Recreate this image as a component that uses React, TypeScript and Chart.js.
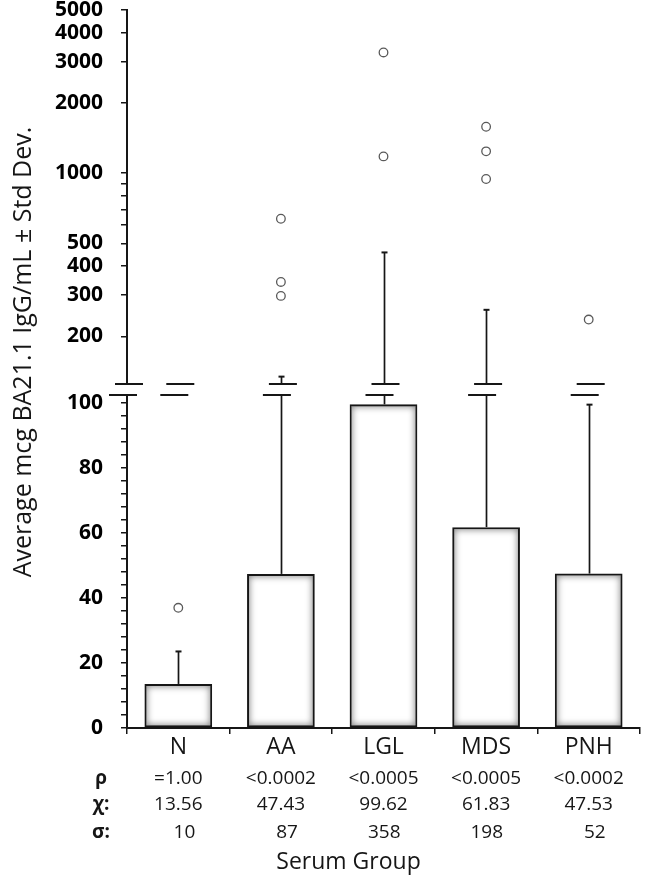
import React, { useEffect, useRef } from "react";
import { Chart, registerables } from "chart.js";

Chart.register(...registerables);

// ---- data ----
const categories = ["N", "AA", "LGL", "MDS", "PNH"];
const means = [13.56, 47.43, 99.62, 61.83, 47.53];
const stdDevs = [10, 87, 358, 198, 52];
const pValues = ["=1.00", "<0.0002", "<0.0005", "<0.0005", "<0.0002"];
const outlierGroups = ["N", "AA", "AA", "AA", "LGL", "LGL", "MDS", "MDS", "MDS", "PNH"];
const outlierValues = [37, 638, 342, 298, 3290, 1180, 1581, 1240, 944, 236];

const lowTicks = [0, 4, 8, 12, 16, 20, 24, 28, 32, 36, 40, 44, 48, 52, 56, 60, 64, 68, 72, 76, 80, 84, 88, 92, 96, 100];
const lowLabels = [0, 20, 40, 60, 80, 100];
const highTicks = [200, 300, 400, 500, 600, 700, 800, 900, 1000, 2000, 3000, 4000, 5000];
const highLabels = [200, 300, 400, 500, 1000, 2000, 3000, 4000, 5000];

const LOW_MAX = 102.5;
const HIGH_MIN = 125;
const HIGH_MAX = 5000;

const rowLabels = ["ρ", "χ:", "σ:"];
const yTitle = "Average mcg BA21.1 IgG/mL ± Std Dev.";
const xTitle = "Serum Group";

const FONT = "'Open Sans', 'Noto Sans', sans-serif";
const INK = "#161616";

const lowOutliers = outlierGroups
  .map((g, i) => ({ x: g, y: outlierValues[i] }))
  .filter((p) => p.y <= LOW_MAX);
const highOutliers = outlierGroups
  .map((g, i) => ({ x: g, y: outlierValues[i] }))
  .filter((p) => p.y > LOW_MAX);

const innerShadowPlugin = {
  id: "innerShadow",
  afterDatasetDraw(chart: any, args: any) {
    if (args.index !== 0) return;
    const ctx = chart.ctx;
    const meta = chart.getDatasetMeta(0);
    meta.data.forEach((bar: any) => {
      const { x, y, base, width } = bar.getProps(["x", "y", "base", "width"], true);
      const left = x - width / 2;
      const top = Math.min(y, base);
      const h = Math.abs(base - y);
      ctx.save();
      ctx.beginPath();
      ctx.rect(left + 2, top + 2, width - 4, h - 4);
      ctx.clip();
      ctx.shadowColor = "rgba(0,0,0,0.55)";
      ctx.shadowBlur = 7;
      ctx.strokeStyle = "#000";
      ctx.lineWidth = 6;
      ctx.strokeRect(left - 1, top - 1, width + 2, h + 2);
      ctx.restore();
    });
  },
};

const errorBarPlugin = {
  id: "errorBars",
  afterDatasetsDraw(chart: any) {
    const ctx = chart.ctx;
    const yLow = chart.scales.yLow;
    const yHigh = chart.scales.yHigh;
    const meta = chart.getDatasetMeta(0);
    ctx.save();
    ctx.strokeStyle = INK;
    ctx.lineCap = "butt";
    meta.data.forEach((bar: any, i: number) => {
      const x = Math.round(bar.x) + 0.5;
      const topVal = means[i] + stdDevs[i];
      const y0 = yLow.getPixelForValue(means[i]);
      ctx.lineWidth = 1.7;
      ctx.beginPath();
      ctx.moveTo(x, y0);
      ctx.lineTo(x, yLow.getPixelForValue(Math.min(topVal, LOW_MAX)));
      ctx.stroke();
      let capY;
      if (topVal > HIGH_MIN) {
        capY = yHigh.getPixelForValue(topVal);
        ctx.beginPath();
        ctx.moveTo(x, yHigh.bottom);
        ctx.lineTo(x, capY);
        ctx.stroke();
      } else {
        capY = yLow.getPixelForValue(topVal);
      }
      ctx.lineWidth = 2;
      ctx.beginPath();
      ctx.moveTo(x - 3, capY);
      ctx.lineTo(x + 3, capY);
      ctx.stroke();
    });
    // axis break marks
    const xs = [chart.chartArea.left, ...meta.data.map((b: any) => b.x)];
    ctx.lineWidth = 2;
    xs.forEach((x: number) => {
      ctx.beginPath();
      ctx.moveTo(x - 12, yHigh.bottom);
      ctx.lineTo(x + 16, yHigh.bottom);
      ctx.moveTo(x - 18, yLow.top);
      ctx.lineTo(x + 10, yLow.top);
      ctx.stroke();
    });
    ctx.restore();
  },
};

const textPlugin = {
  id: "texts",
  afterDraw(chart: any) {
    const ctx = chart.ctx;
    const area = chart.chartArea;
    const xScale = chart.scales.x;
    ctx.save();
    ctx.fillStyle = INK;
    // y title
    ctx.save();
    ctx.translate(24, (area.top + area.bottom) / 2 - 17);
    ctx.rotate(-Math.PI / 2);
    ctx.textAlign = "center";
    ctx.textBaseline = "middle";
    ctx.font = `25px ${FONT}`;
    ctx.fillText(yTitle, 0, 0);
    ctx.restore();

    const rowYs = [area.bottom + 51, area.bottom + 77, area.bottom + 105];
    ctx.textBaseline = "middle";
    ctx.font = `bold 19px ${FONT}`;
    ctx.textAlign = "center";
    rowLabels.forEach((t, r) => ctx.fillText(t, 101, rowYs[r]));
    ctx.font = `19px ${FONT}`;
    categories.forEach((c, i) => {
      const cx = xScale.getPixelForValue(i);
      ctx.textAlign = "center";
      ctx.fillText(pValues[i], cx, rowYs[0]);
      ctx.fillText(means[i].toFixed(2), cx, rowYs[1]);
      ctx.textAlign = "right";
      ctx.fillText(String(stdDevs[i]), cx + 17, rowYs[2]);
    });
    ctx.textAlign = "center";
    ctx.font = `23px ${FONT}`;
    ctx.fillText(xTitle, (area.left + area.right) / 2 - 35, area.bottom + 134);
    ctx.restore();
  },
};

const yTickFont = { family: FONT, size: 21, weight: "bold" as const };

export default function App() {
  const ref = useRef<HTMLCanvasElement | null>(null);
  useEffect(() => {
    if (!ref.current) return;
    const chart = new Chart(ref.current, {
      type: "bar",
      data: {
        labels: categories,
        datasets: [
          {
            type: "bar",
            data: means,
            yAxisID: "yLow",
            backgroundColor: "#ffffff",
            borderColor: INK,
            borderWidth: 2,
            borderSkipped: false,
            barPercentage: 0.66,
            categoryPercentage: 1,
            order: 2,
          } as any,
          {
            type: "line",
            data: lowOutliers as any,
            yAxisID: "yLow",
            showLine: false,
            pointRadius: 4.3,
            pointBorderColor: "#5a5a5a",
            pointBackgroundColor: "rgba(255,255,255,0)",
            pointBorderWidth: 1.3,
            order: 1,
          } as any,
          {
            type: "line",
            data: highOutliers as any,
            yAxisID: "yHigh",
            showLine: false,
            pointRadius: 4.3,
            pointBorderColor: "#5a5a5a",
            pointBackgroundColor: "rgba(255,255,255,0)",
            pointBorderWidth: 1.3,
            order: 1,
          } as any,
        ],
      },
      options: {
        animation: false,
        responsive: true,
        maintainAspectRatio: false,
        layout: { padding: { left: 50, right: 11, top: 10, bottom: 0 } },
        plugins: { legend: { display: false }, tooltip: { enabled: false } },
        scales: {
          x: {
            type: "category",
            offset: true,
            grid: { offset: true, drawOnChartArea: false, tickLength: 6, color: INK, lineWidth: 1.5 },
            border: { color: INK, width: 2 },
            ticks: { font: { family: FONT, size: 23 }, color: INK, padding: 0, maxRotation: 0 },
            afterFit: (s: any) => {
              s.height = 887 - 728;
              s.paddingLeft = 0;
              s.paddingRight = 0;
            },
          },
          yHigh: {
            type: "logarithmic",
            position: "left",
            stack: "v",
            stackWeight: 374,
            weight: 3,
            min: HIGH_MIN,
            max: HIGH_MAX,
            afterBuildTicks: (s: any) => {
              s.ticks = highTicks.map((v) => ({ value: v }));
            },
            ticks: {
              autoSkip: false,
              callback: (v: any) => (highLabels.includes(Number(v)) ? String(v) : ""),
              font: yTickFont,
              color: "#000",
              padding: 18,
            },
            grid: { drawOnChartArea: false, tickLength: 6, color: INK, lineWidth: 1.5 },
            border: { color: INK, width: 2 },
            afterFit: (s: any) => {
              s.width = 77;
              s.paddingTop = 0;
              s.paddingBottom = 0;
            },
          },
          yGap: {
            type: "linear",
            position: "left",
            stack: "v",
            stackWeight: 11,
            weight: 2,
            grid: { display: false },
            border: { display: false },
            ticks: { display: false },
            afterFit: (s: any) => {
              s.width = 77;
              s.paddingTop = 0;
              s.paddingBottom = 0;
            },
          },
          yLow: {
            type: "linear",
            position: "left",
            stack: "v",
            stackWeight: 333,
            weight: 1,
            min: 0,
            max: LOW_MAX,
            afterBuildTicks: (s: any) => {
              s.ticks = lowTicks.map((v) => ({ value: v }));
            },
            ticks: {
              autoSkip: false,
              callback: (v: any) => (lowLabels.includes(Number(v)) ? String(v) : ""),
              font: yTickFont,
              color: "#000",
              padding: 18,
            },
            grid: { drawOnChartArea: false, tickLength: 6, color: INK, lineWidth: 1.5 },
            border: { color: INK, width: 2 },
            afterFit: (s: any) => {
              s.width = 77;
              s.paddingTop = 0;
              s.paddingBottom = 0;
            },
          },
        } as any,
      },
      plugins: [innerShadowPlugin, errorBarPlugin, textPlugin],
    });
    return () => chart.destroy();
  }, []);

  return (
    <div style={{ position: "absolute", left: 0, top: 0, width: 651, height: 887, background: "#fff" }}>
      <canvas ref={ref} />
    </div>
  );
}
